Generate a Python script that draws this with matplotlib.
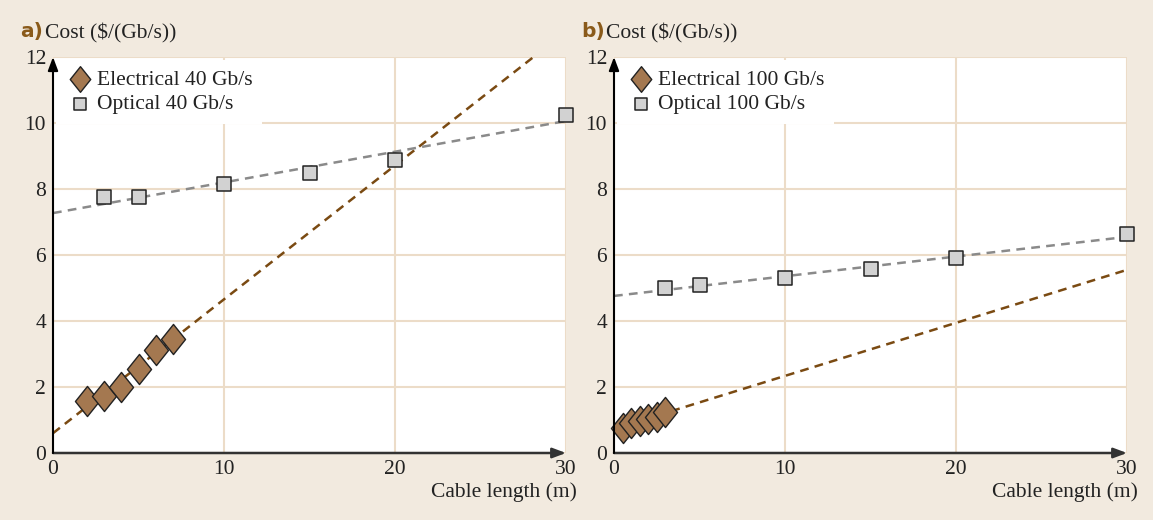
import matplotlib
matplotlib.use("Agg")
import matplotlib.pyplot as plt
from matplotlib.path import Path
import numpy as np

# ---- data ----
elec40_x = [2, 3, 4, 5, 6, 7]
elec40_y = [1.58, 1.73, 2.0, 2.55, 3.12, 3.45]
opt40_x = [3, 5, 10, 15, 20, 30]
opt40_y = [7.76, 7.76, 8.15, 8.48, 8.88, 10.24]
elec40_fit_x = [0, 28.1]
elec40_fit_y = [0.6, 12.0]
opt40_fit_x = [0, 30]
opt40_fit_y = [7.27, 10.06]

elec100_x = [0.5, 1.0, 1.5, 2.0, 2.5, 3.0]
elec100_y = [0.75, 0.9, 0.97, 1.03, 1.08, 1.25]
opt100_x = [3, 5, 10, 15, 20, 30]
opt100_y = [5.0, 5.09, 5.3, 5.58, 5.91, 6.64]
elec100_fit_x = [0, 30]
elec100_fit_y = [0.73, 5.55]
opt100_fit_x = [0, 30]
opt100_fit_y = [4.76, 6.55]

xticks = [0, 10, 20, 30]
yticks = [0, 2, 4, 6, 8, 10, 12]

BG = "#f2eadf"
GRID = "#ecdcc8"
BROWN = "#7a4a12"
DIAM = "#a47850"
SQ = "#d2d2d2"
serif = "Liberation Serif"
FS = 15.5

diamond = Path([(0, 1), (0.8, 0), (0, -1), (-0.8, 0), (0, 1)],
               [Path.MOVETO, Path.LINETO, Path.LINETO, Path.LINETO, Path.CLOSEPOLY])

fig = plt.figure(figsize=(11.53, 5.2), dpi=100, facecolor=BG)

panels = [
    dict(left=53, label="a)", ex=elec40_x, ey=elec40_y, ox=opt40_x, oy=opt40_y,
         efx=elec40_fit_x, efy=elec40_fit_y, ofx=opt40_fit_x, ofy=opt40_fit_y,
         en="Electrical 40 Gb/s", on="Optical 40 Gb/s"),
    dict(left=614, label="b)", ex=elec100_x, ey=elec100_y, ox=opt100_x, oy=opt100_y,
         efx=elec100_fit_x, efy=elec100_fit_y, ofx=opt100_fit_x, ofy=opt100_fit_y,
         en="Electrical 100 Gb/s", on="Optical 100 Gb/s"),
]

W, H = 1153, 520
for p in panels:
    ax = fig.add_axes([p["left"] / W, (H - 453) / H, 513 / W, 396 / H])
    ax.set_facecolor("white")
    ax.set_xlim(0, 30)
    ax.set_ylim(0, 12)
    for s in ax.spines.values():
        s.set_visible(False)
    ax.set_xticks(xticks)
    ax.set_yticks(yticks)
    ax.tick_params(length=0, labelsize=FS, pad=5)
    for t in ax.get_xticklabels() + ax.get_yticklabels():
        t.set_fontfamily(serif)
        t.set_color("#222222")
    ax.grid(True, color=GRID, lw=1.5, zorder=0)
    ax.set_axisbelow(True)

    ax.plot(p["efx"], p["efy"], ls=(0, (3.5, 2.5)), color=BROWN, lw=1.8, zorder=2)
    ax.plot(p["ofx"], p["ofy"], ls=(0, (3.5, 2.5)), color="#8a8a8a", lw=1.8, zorder=2)
    h1 = ax.scatter(p["ex"], p["ey"], marker=diamond, s=470, facecolor=DIAM,
                    edgecolor="#222222", linewidth=1.0, zorder=4, clip_on=False,
                    label=p["en"])
    h2 = ax.scatter(p["ox"], p["oy"], marker="s", s=115, facecolor=SQ,
                    edgecolor="#222222", linewidth=1.1, zorder=4, clip_on=False,
                    label=p["on"])

    leg = ax.legend(handles=[h1, h2], loc="upper left", frameon=True,
                    fancybox=False, framealpha=1.0, facecolor="white",
                    edgecolor="none", prop={"family": serif, "size": FS},
                    handletextpad=0.15, borderaxespad=0.15, labelspacing=0.2,
                    borderpad=0.45, handlelength=1.3, markerscale=0.85)
    leg.set_zorder(3)
    for t in leg.get_texts():
        t.set_color("#222222")

    # axes arrows
    ax.annotate("", xy=(30, 0), xytext=(0, 0), xycoords="data",
                arrowprops=dict(arrowstyle="-|>,head_length=0.8,head_width=0.3",
                                color="#333333", lw=1.8, shrinkA=0, shrinkB=0),
                annotation_clip=False, zorder=6)
    ax.annotate("", xy=(0, 12), xytext=(0, 0), xycoords="data",
                arrowprops=dict(arrowstyle="-|>,head_length=0.8,head_width=0.3",
                                color="black", lw=1.5, shrinkA=0, shrinkB=0),
                annotation_clip=False, zorder=6)

    lx = p["left"] - 33
    fig.text(lx / W, 1 - 32 / H, p["label"], color="#8a5a1a", fontsize=14.5,
             fontweight="bold", family="DejaVu Sans", va="center", ha="left")
    fig.text((lx + 25) / W, 1 - 33 / H, "Cost ($/(Gb/s))", color="#222222",
             fontsize=FS, family=serif, va="center", ha="left")
    fig.text((p["left"] + 524) / W, 1 - 492 / H, "Cable length (m)", color="#222222",
             fontsize=FS, family=serif, va="center", ha="right")

fig.savefig("out.png", dpi=100, facecolor=BG)
